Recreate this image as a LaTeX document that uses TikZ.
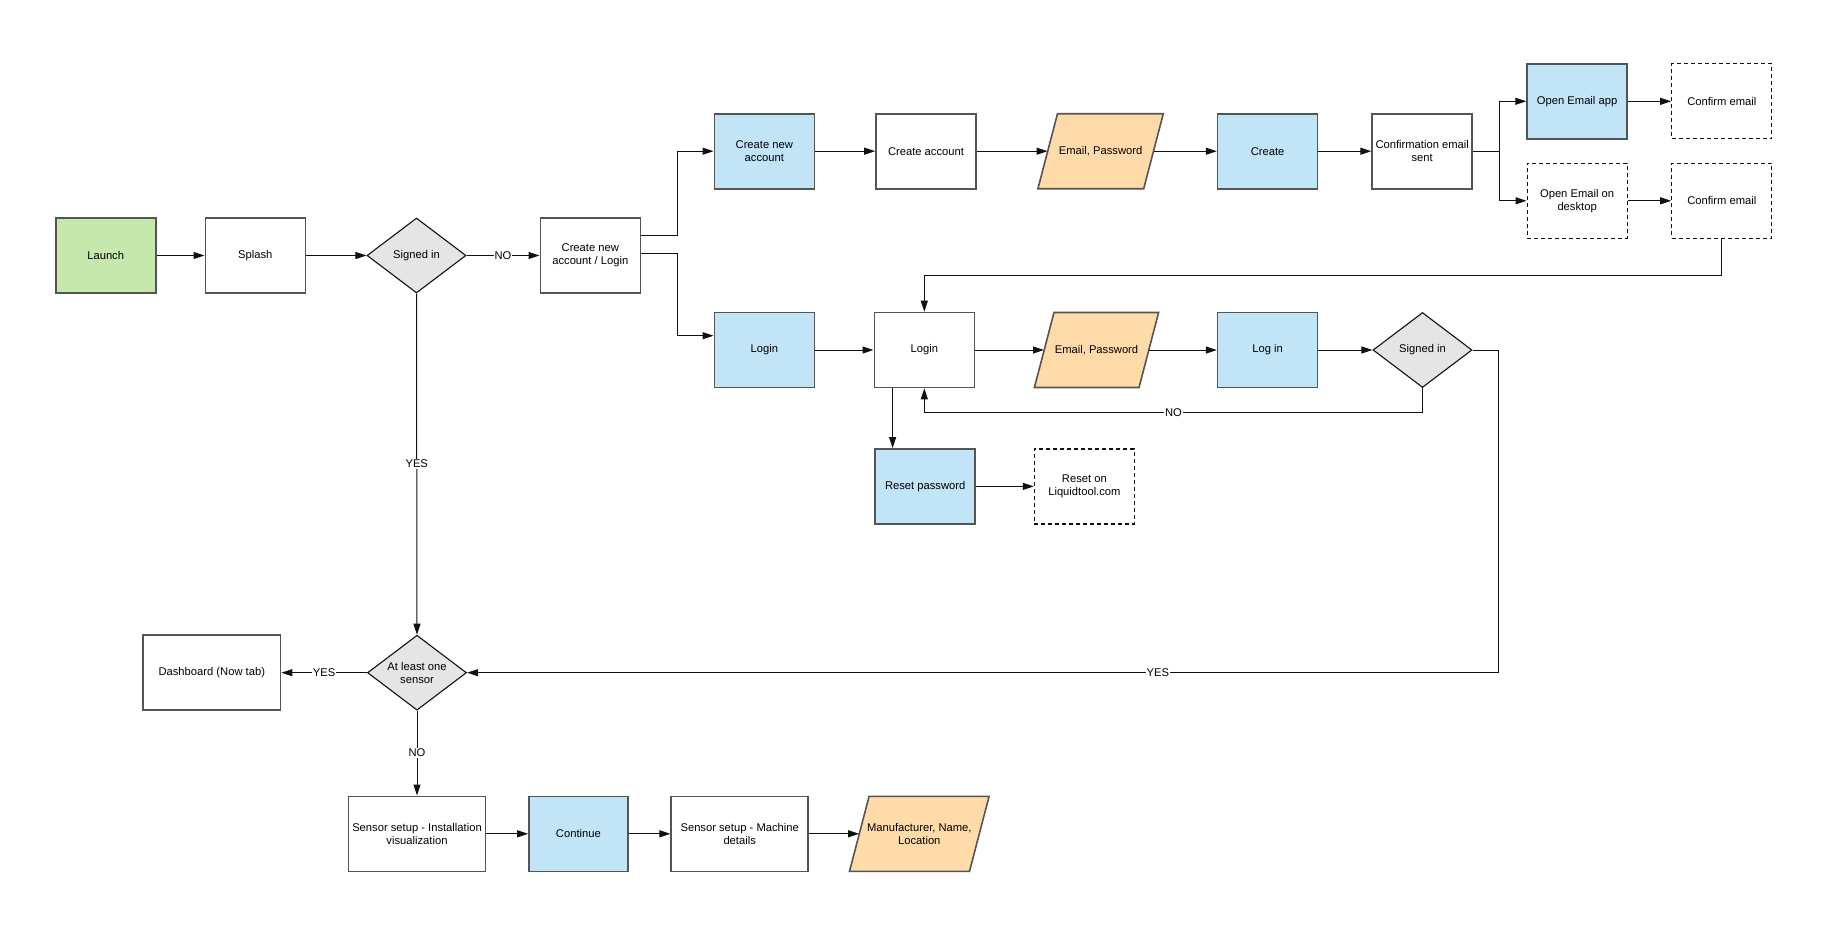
\documentclass[tikz,border=0pt]{standalone}
\usepackage{fontspec}
\setmainfont{Liberation Sans}
\usetikzlibrary{arrows.meta,shapes.geometric,calc}
\definecolor{cgreen}{HTML}{C7E8AC}
\definecolor{cblue}{HTML}{C1E4F7}
\definecolor{corange}{HTML}{FFDBA9}
\definecolor{cgray}{HTML}{E5E5E5}
\definecolor{cline}{HTML}{555555}
\definecolor{cconn}{HTML}{111111}
\newcommand{\myparashape}[3]{%
  \filldraw[parast] ({#1-#3-9.8},{#2+37.5}) -- ({#1-#3+9.8},{#2-37.5}) -- ({#1+#3+9.8},{#2-37.5}) -- ({#1+#3-9.8},{#2+37.5}) -- cycle;}
\begin{document}
\begin{tikzpicture}[x=1pt,y=-1pt,
  txt/.style={font=\fontsize{11.2}{13.3}\selectfont, align=center, text=black},
  box/.style={txt, rectangle, draw=cline, line width=1.6pt, fill=white, minimum width=100pt, minimum height=75pt, inner sep=1pt},
  widebox/.style={box, minimum width=137pt},
  greenbox/.style={box, fill=cgreen},
  bluebox/.style={box, fill=cblue},
  dashbox/.style={box, draw=cconn, line width=1.2pt, dash pattern=on 4pt off 3pt},
  dia/.style={txt, diamond, draw=cconn, line width=1.1pt, fill=cgray, minimum width=99pt, minimum height=75pt, aspect=1.32, inner sep=0pt},
  paranode/.style={txt, rectangle, draw=none, minimum height=75pt, inner sep=0pt},
  parast/.style={draw=cline, line width=1.6pt, fill=corange},
  conn/.style={draw=cconn, line width=1pt, -{Triangle[length=11pt,width=7pt]}},
  lbl/.style={txt, fill=white, inner sep=1pt}
]
\fill[white] (0,0) rectangle (1826,926);
\useasboundingbox (0,0) rectangle (1826,926);

% row 1
\node[greenbox] (launch) at (105.7,255.5) {Launch};
\node[box] (splash) at (255.3,255.5) {Splash};
\node[dia] (signed1) at (416.5,255.5) {Signed in};
\node[box] (cnal) at (590.3,255.5) {Create new\\account / Login};

% create account branch
\node[bluebox] (cna) at (764.3,151.2) {Create new\\account};
\node[box] (createacct) at (926,151.2) {Create account};
\myparashape{1100.6}{151.2}{52.9}
\node[paranode, minimum width=105.8pt] (ep1) at (1100.6,151.2) {Email, Password};
\node[bluebox] (create) at (1267.6,151.2) {Create};
\node[box] (confsent) at (1422.2,151.2) {Confirmation email\\sent};
\node[bluebox] (openapp) at (1577.1,101.3) {Open Email app};
\node[dashbox] (confirm1) at (1721.8,101.3) {Confirm email};
\node[dashbox] (opendesk) at (1577.1,200.8) {Open Email on\\desktop};
\node[dashbox] (confirm2) at (1721.8,200.8) {Confirm email};

% login branch
\node[bluebox] (login1) at (764.3,350) {Login};
\node[box] (loginw) at (924.3,350) {Login};
\myparashape{1096.5}{350}{52.3}
\node[paranode, minimum width=104.6pt] (ep2) at (1096.5,350) {Email, Password};
\node[bluebox] (login2) at (1267.6,350) {Log in};
\node[dia] (signed2) at (1422.5,350) {Signed in};
\node[bluebox] (reset) at (925.2,486.4) {Reset password};
\node[dashbox] (resetweb) at (1084.4,486.4) {Reset on\\Liquidtool.com};

% lower part
\node[dia] (atleast) at (417,672.7) {At least one\\sensor};
\node[widebox, minimum width=137.6pt] (dash) at (211.8,672.7) {Dashboard (Now tab)};
\node[widebox] (sensor1) at (417,833.8) {Sensor setup - Installation\\visualization};
\node[bluebox, minimum width=98.8pt] (cont) at (578.4,833.8) {Continue};
\node[widebox] (sensor2) at (739.7,833.8) {Sensor setup - Machine\\details};
\myparashape{919.3}{833.8}{60}
\node[paranode, minimum width=120pt] (manuf) at (919.3,833.8) {Manufacturer, Name,\\Location};

% helper coordinates
\coordinate (jx) at (677,0);
\coordinate (sx) at (1499.4,0);
\coordinate (retY) at (0,275.3);
\coordinate (noY) at (0,412.7);
\coordinate (yesX) at (1498,0);
\coordinate (rx) at (892.6,0);
\coordinate (c1) at ([yshift=19.8pt]cnal.east);
\coordinate (c2) at ([yshift=2.2pt]cnal.east);

% connectors
\draw[conn] (launch.east) -- (splash.west);
\draw[conn] (splash.east) -- (signed1.west);
\draw[conn] (signed1.east) -- node[lbl]{NO} (cnal.west);
\draw[conn] (c1) -- (c1 -| jx) |- (cna.west);
\draw[conn] (c2) -- (c2 -| jx) |- ([yshift=14.3pt]login1.west);
\draw[conn] (cna.east) -- (createacct.west);
\draw[conn] (createacct.east) -- (ep1.west);
\draw[conn] (ep1.east) -- (create.west);
\draw[conn] (create.east) -- (confsent.west);
\draw[conn] (confsent.east) -- (confsent.east -| sx) |- (openapp.west);
\draw[conn] (confsent.east -| sx) |- (opendesk.west);
\draw[conn] (openapp.east) -- (confirm1.west);
\draw[conn] (opendesk.east) -- (confirm2.west);
\draw[conn] (confirm2.south) -- (confirm2.south |- retY) -| (loginw.north);
\draw[conn] (login1.east) -- (loginw.west);
\draw[conn] (loginw.east) -- (ep2.west);
\draw[conn] (ep2.east) -- (login2.west);
\draw[conn] (login2.east) -- (signed2.west);
\draw[conn] (signed2.south) -- (signed2.south |- noY) -- node[lbl]{NO} (loginw.south |- noY) -- (loginw.south);
\draw[conn] (signed2.east) -- (yesX |- signed2.east) -- (yesX |- atleast.east) -- node[lbl, pos=0.33]{YES} (atleast.east);
\draw[conn] (loginw.south -| rx) -- (reset.north -| rx);
\draw[conn] (reset.east) -- (resetweb.west);
\draw[conn] (signed1.south) -- node[lbl]{YES} (atleast.north);
\draw[conn] (atleast.west) -- node[lbl]{YES} (dash.east);
\draw[conn] (atleast.south) -- node[lbl]{NO} (sensor1.north);
\draw[conn] (sensor1.east) -- (cont.west);
\draw[conn] (cont.east) -- (sensor2.west);
\draw[conn] (sensor2.east) -- (manuf.west);
\end{tikzpicture}
\end{document}
